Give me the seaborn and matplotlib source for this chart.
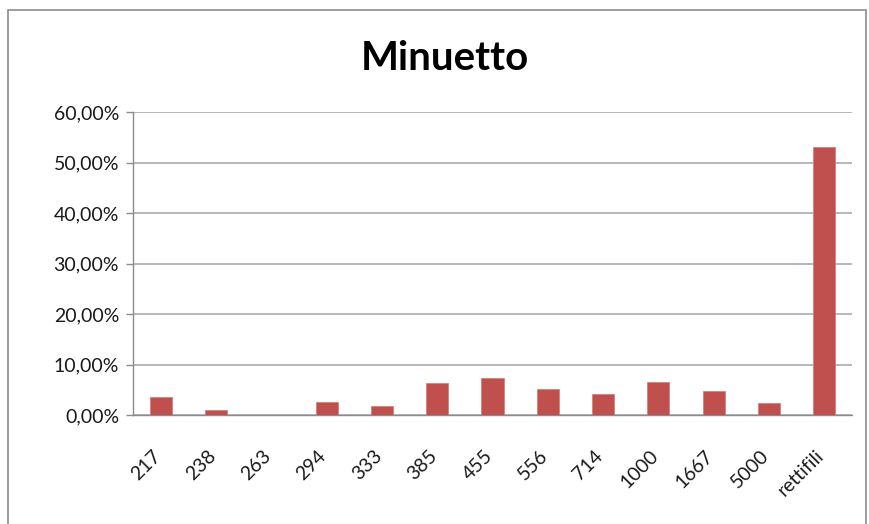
import matplotlib
matplotlib.use("Agg")
import matplotlib.pyplot as plt
import matplotlib.patches as mpatches
import matplotlib.transforms as mtransforms
from matplotlib.ticker import FuncFormatter, MultipleLocator
import seaborn as sns
import pandas as pd

categories = ["217", "238", "263", "294", "333", "385", "455", "556",
              "714", "1000", "1667", "5000", "rettifili"]
values = [3.5, 1.0, 0.0, 2.6, 1.7, 6.25, 7.4, 5.05, 4.2, 6.45, 4.85, 2.35, 53.05]

title = "Minuetto"
bar_color = "#C0504D"

df = pd.DataFrame({"cat": categories, "val": values})

sns.set_theme(style="white")
plt.rcParams["font.family"] = ["Lato", "DejaVu Sans"]

W, H = 870, 524
fig = plt.figure(figsize=(W / 100, H / 100), dpi=100)
ax = fig.add_axes([133 / W, 1 - 415 / H, (852 - 133) / W, (415 - 112) / H])

sns.barplot(data=df, x="cat", y="val", color=bar_color, width=0.4,
            saturation=1, edgecolor="#d87f7c", linewidth=0.6, ax=ax, zorder=3)

ax.set_ylim(0, 60)
ax.set_xlim(-0.5, len(categories) - 0.5)
ax.yaxis.set_major_locator(MultipleLocator(10))
ax.yaxis.set_major_formatter(FuncFormatter(lambda v, p: f"{v:.2f}".replace(".", ",") + "%"))
ax.grid(axis="y", color="#ababab", linewidth=1.2, zorder=0)
ax.set_xlabel("")
ax.set_ylabel("")

for s in ["top", "right"]:
    ax.spines[s].set_visible(False)
for s in ["left", "bottom"]:
    ax.spines[s].set_color("#8c8c8c")
    ax.spines[s].set_linewidth(1.0)

# category boundary ticks on x, outward ticks on y
ax.set_xticks([i for i in range(len(categories))])
ax.set_xticklabels(categories, rotation=45, ha="right", rotation_mode="anchor",
                   fontsize=14, color="#1a1a1a")
ax.set_xticks([i - 0.5 for i in range(len(categories) + 1)], minor=True)
ax.tick_params(axis="x", which="major", length=0, pad=23)
ax.tick_params(axis="x", which="minor", length=5, color="#8c8c8c", width=1.0, direction="out")
ax.tick_params(axis="y", length=5, color="#8c8c8c", width=1.0, direction="out",
               labelsize=14, labelcolor="#1a1a1a", pad=5, left=True)

# nudge rotated category labels so their upper end sits by the bar
shift = mtransforms.ScaledTranslation(-9 / 100, 0, fig.dpi_scale_trans)
for lbl in ax.get_xticklabels():
    lbl.set_transform(lbl.get_transform() + shift)

fig.text(445 / W, 1 - 58 / H, title, ha="center", va="center",
         fontsize=29, fontweight="bold", color="black")

# chart-area frame
frame = mpatches.Rectangle((8 / W, -0.05), (866 - 8) / W, 1 - 10 / H + 0.05,
                           transform=fig.transFigure, fill=False,
                           edgecolor="#8c8c8c", linewidth=1.2)
fig.patches.append(frame)

fig.savefig("out.png", dpi=100)
